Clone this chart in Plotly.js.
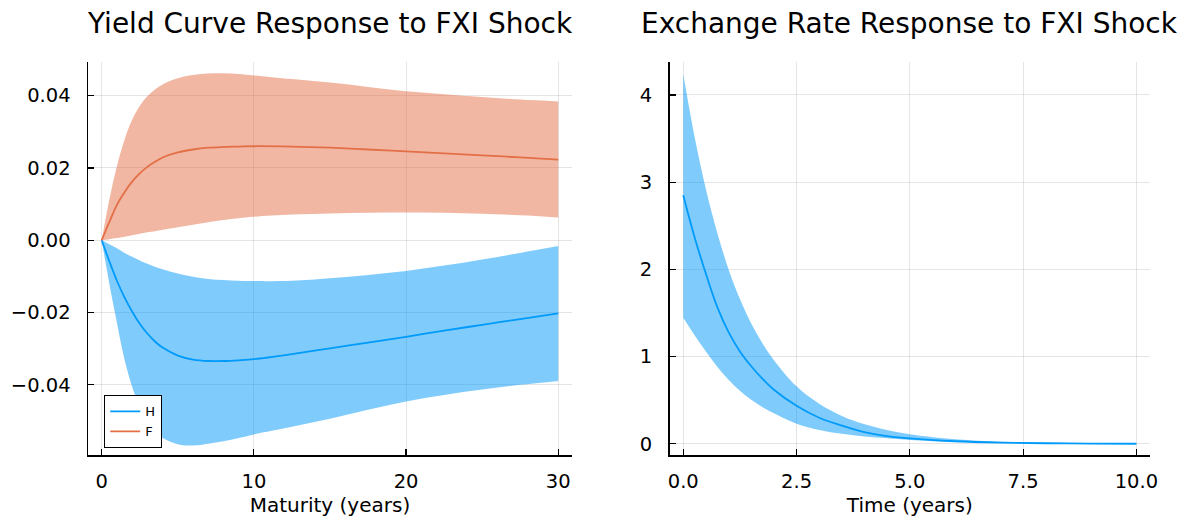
<!DOCTYPE html>
<html>
<head>
<meta charset="utf-8">
<script src="https://cdn.plot.ly/plotly-3.0.1.min.js"></script>
<style>html,body{margin:0;padding:0;background:#fff;}#chart{width:1181px;height:517px;}</style>
</head>
<body>
<div id="chart"></div>
<script>
// ---- Left panel: yield curve response (maturity in years) ----
const maturity = [0, 0.5, 1, 1.5, 2, 2.5, 3, 3.5, 4, 5, 6, 7, 8, 9, 10, 12.5, 15, 17.5, 20, 22.5, 25, 27.5, 30];
const hMid   = [0, -0.0058, -0.0112, -0.0158, -0.0197, -0.0231, -0.0258, -0.0280, -0.0297, -0.0319, -0.0330, -0.0334, -0.0334, -0.0332, -0.0329, -0.0315, -0.0299, -0.0283, -0.0267, -0.0250, -0.0234, -0.0218, -0.0202];
const hUpper = [0, -0.0011, -0.0022, -0.0035, -0.0046, -0.0056, -0.0065, -0.0073, -0.0080, -0.0092, -0.0101, -0.0107, -0.0110, -0.0112, -0.0113, -0.0112, -0.0105, -0.0096, -0.0085, -0.0070, -0.0053, -0.0035, -0.0016];
const hLower = [0, -0.0120, -0.0228, -0.0330, -0.0405, -0.0462, -0.0503, -0.0530, -0.0547, -0.0564, -0.0568, -0.0563, -0.0556, -0.0547, -0.0537, -0.0516, -0.0494, -0.0469, -0.0446, -0.0428, -0.0413, -0.0400, -0.0389];
const fMid   = [0, 0.0050, 0.0098, 0.0133, 0.0162, 0.0185, 0.0203, 0.0217, 0.0229, 0.0243, 0.0251, 0.0256, 0.0258, 0.0259, 0.0260, 0.0259, 0.0256, 0.0251, 0.0246, 0.0240, 0.0235, 0.0229, 0.0223];
const fUpper = [0, 0.0112, 0.0205, 0.0278, 0.0333, 0.0371, 0.0398, 0.0417, 0.0431, 0.0448, 0.0457, 0.0461, 0.0462, 0.0460, 0.0456, 0.0446, 0.0436, 0.0424, 0.0412, 0.0404, 0.0396, 0.0389, 0.0384];
const fLower = [0, 0.0003, 0.0006, 0.0010, 0.0014, 0.0018, 0.0022, 0.0025, 0.0029, 0.0036, 0.0043, 0.0050, 0.0056, 0.0061, 0.0065, 0.0071, 0.0074, 0.0076, 0.0077, 0.0076, 0.0073, 0.0069, 0.0063];

// ---- Right panel: exchange rate response (time in years) ----
const time    = [0, 0.25, 0.5, 0.75, 1, 1.25, 1.5, 1.75, 2, 2.5, 3, 3.5, 4, 4.5, 5, 6, 7, 8, 9, 10];
const erMid   = [2.85, 2.37, 1.95, 1.57, 1.28, 1.06, 0.89, 0.745, 0.62, 0.437, 0.30, 0.21, 0.135, 0.09, 0.062, 0.030, 0.014, 0.007, 0.0035, 0.0017];
const erUpper = [4.24, 3.52, 2.92, 2.42, 2.00, 1.66, 1.38, 1.15, 0.96, 0.66, 0.46, 0.32, 0.225, 0.16, 0.11, 0.052, 0.025, 0.012, 0.006, 0.003];
const erLower = [1.445, 1.245, 1.06, 0.885, 0.735, 0.61, 0.505, 0.42, 0.35, 0.232, 0.16, 0.115, 0.084, 0.064, 0.045, 0.021, 0.010, 0.005, 0.0025, 0.001];

const seriesNames = ['H', 'F'];
const titles = ['Yield Curve Response to FXI Shock', 'Exchange Rate Response to FXI Shock'];
const xTitles = ['Maturity (years)', 'Time (years)'];

const BLUE = '#009AFA', ORANGE = '#E36F47';
const BLUE_FILL = 'rgba(0,154,250,0.5)', ORANGE_FILL = 'rgba(227,111,71,0.5)';
const FONT = 'DejaVu Sans';

// Band drawn as two edges: the upper edge (no fill), then the lower edge filled up to it.
function bandEdges(x, up, lo, fill, xa, ya) {
  const base = {x: x, xaxis: xa, yaxis: ya, type: 'scatter', mode: 'lines',
    showlegend: false, hoverinfo: 'skip'};
  return [
    Object.assign({}, base, {y: up, line: {width: 0, color: 'rgba(0,0,0,0)', shape: 'spline', smoothing: 1}}),
    Object.assign({}, base, {y: lo, fill: 'tonexty', fillcolor: fill,
      line: {width: 0, color: 'rgba(0,0,0,0)', shape: 'spline', smoothing: 1}})
  ];
}
function line(x, y, color, name, xa, ya, show) {
  return {x: x, y: y, xaxis: xa, yaxis: ya, type: 'scatter', mode: 'lines',
    line: {color: color, width: 1.8, shape: 'spline', smoothing: 1}, name: name, showlegend: show};
}

const traces = [].concat(
  bandEdges(maturity, hUpper, hLower, BLUE_FILL, 'x', 'y'),
  bandEdges(maturity, fUpper, fLower, ORANGE_FILL, 'x', 'y'),
  [line(maturity, hMid, BLUE, seriesNames[0], 'x', 'y', true),
   line(maturity, fMid, ORANGE, seriesNames[1], 'x', 'y', true)],
  bandEdges(time, erUpper, erLower, BLUE_FILL, 'x2', 'y2'),
  [line(time, erMid, BLUE, 'y1', 'x2', 'y2', false)]
);

const axisBase = {
  showline: true, linecolor: '#000', linewidth: 1.5, mirror: false,
  ticks: 'inside', ticklen: 6, tickwidth: 1.2, tickcolor: '#000',
  showgrid: true, gridcolor: 'rgba(0,0,0,0.1)', gridwidth: 1,
  zeroline: false, automargin: false,
  tickfont: {family: FONT, size: 19.5, color: '#000'}
};

const layout = {
  width: 1181, height: 517,
  paper_bgcolor: '#fff', plot_bgcolor: '#fff',
  margin: {l: 88, r: 31, t: 62, b: 62},
  font: {family: FONT, color: '#000'},
  showlegend: true,
  legend: {x: 0.0151, y: 0.152, xanchor: 'left', yanchor: 'top', traceorder: 'normal',
    bgcolor: '#fff', bordercolor: '#000', borderwidth: 1.2,
    font: {family: FONT, size: 13, color: '#000'}, itemwidth: 30, tracegroupgap: 0},
  xaxis: Object.assign({}, axisBase, {domain: [0, 0.4557], range: [-0.9, 30.9],
    tickvals: [0, 10, 20, 30], ticklabelstandoff: 8,
    title: {text: xTitles[0], font: {family: FONT, size: 20, color: '#000'}, standoff: 6}}),
  yaxis: Object.assign({}, axisBase, {domain: [0, 1], range: [-0.0594, 0.0493],
    tickvals: [-0.04, -0.02, 0, 0.02, 0.04], tickformat: '.2f', ticklabelstandoff: 12}),
  xaxis2: Object.assign({}, axisBase, {domain: [0.5477, 1], range: [-0.3, 10.3], anchor: 'y2',
    tickvals: [0, 2.5, 5, 7.5, 10], tickformat: '.1f', ticklabelstandoff: 8,
    title: {text: xTitles[1], font: {family: FONT, size: 20, color: '#000'}, standoff: 6}}),
  yaxis2: Object.assign({}, axisBase, {domain: [0, 1], range: [-0.1275, 4.3775], anchor: 'x2',
    tickvals: [0, 1, 2, 3, 4], tickformat: 'd', ticklabelstandoff: 12}),
  annotations: [
    {text: titles[0], xref: 'paper', yref: 'paper', x: 0.2279, y: 1.0967, xanchor: 'center', yanchor: 'middle',
      showarrow: false, font: {family: FONT, size: 28, color: '#000'}},
    {text: titles[1], xref: 'paper', yref: 'paper', x: 0.7731, y: 1.0967, xanchor: 'center', yanchor: 'middle',
      showarrow: false, font: {family: FONT, size: 28, color: '#000'}}
  ]
};

Plotly.newPlot('chart', traces, layout, {displayModeBar: false, staticPlot: true});
</script>
</body>
</html>
